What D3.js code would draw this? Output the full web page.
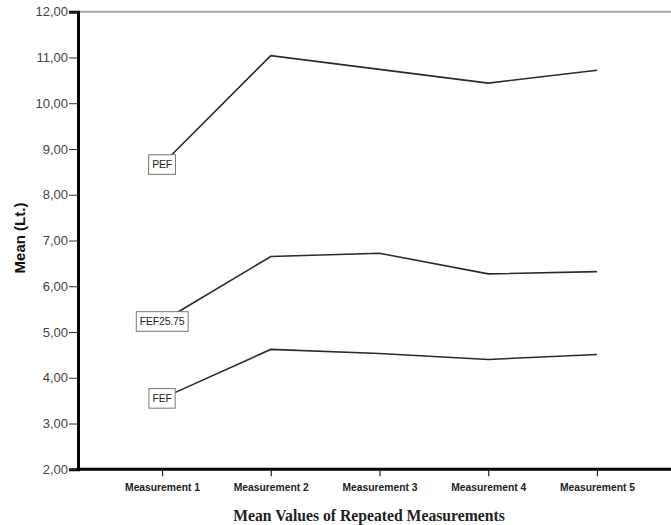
<!DOCTYPE html>
<html>
<head>
<meta charset="utf-8">
<script src="https://cdn.jsdelivr.net/npm/d3@7"></script>
<style>
  html, body { margin: 0; padding: 0; background: #fff; }
  svg { display: block; }
</style>
</head>
<body>
<div id="chart"></div>
<script>
const width = 671;
const height = 525;
const margin = { top: 11.7, right: 0, bottom: 55.7, left: 78 };

// Data
const measurements = ["Measurement 1", "Measurement 2", "Measurement 3", "Measurement 4", "Measurement 5"];
const seriesNames = ["PEF", "FEF25.75", "FEF"];
const pefValues = [8.66, 11.04, 10.74, 10.44, 10.72];
const fef2575Values = [5.23, 6.65, 6.72, 6.27, 6.32];
const fefValues = [3.55, 4.62, 4.53, 4.40, 4.51];
const yTicks = [2, 3, 4, 5, 6, 7, 8, 9, 10, 11, 12];

const series = [
    { name: seriesNames[0], values: pefValues },
    { name: seriesNames[1], values: fef2575Values },
    { name: seriesNames[2], values: fefValues },
];

const svg = d3
    .select("#chart")
    .append("svg")
    .attr("width", width)
    .attr("height", height);

const x = d3
    .scalePoint()
    .domain(measurements)
    .range([margin.left, width + 10])
    .padding(0.773);

const y = d3
    .scaleLinear()
    .domain([2, 12])
    .range([height - margin.bottom, margin.top]);

const fmt = (d) => d.toFixed(2).replace(".", ",");

// Top frame line (grey)
svg
    .append("line")
    .attr("x1", margin.left)
    .attr("x2", width)
    .attr("y1", y(12))
    .attr("y2", y(12))
    .attr("stroke", "#a8a8a8")
    .attr("stroke-width", 2);

// Y axis
const yAxisG = svg
    .append("g")
    .attr("transform", `translate(${margin.left},0)`)
    .call(d3.axisLeft(y).tickValues(yTicks).tickFormat(fmt).tickSize(9).tickPadding(1));

yAxisG.select(".domain").attr("stroke", "#000").attr("stroke-width", 3);
yAxisG.selectAll(".tick line").attr("stroke", "#333").attr("stroke-width", 1);
yAxisG
    .selectAll(".tick text")
    .attr("font-family", "Arial, 'Liberation Sans', sans-serif")
    .attr("font-size", 13)
    .attr("fill", "#444");

// X axis
const xAxisG = svg
    .append("g")
    .attr("transform", `translate(0,${y(2)})`)
    .call(d3.axisBottom(x).tickSize(7).tickPadding(7).tickSizeOuter(0));

xAxisG
    .select(".domain")
    .attr("d", `M${margin.left - 1.5},0H${width}`)
    .attr("stroke", "#000")
    .attr("stroke-width", 3);
xAxisG.selectAll(".tick line").attr("stroke", "#222").attr("stroke-width", 1.2);
xAxisG
    .selectAll(".tick text")
    .attr("font-family", "Arial, 'Liberation Sans', sans-serif")
    .attr("font-size", 10.3)
    .attr("font-weight", 700)
    .attr("fill", "#222");

// Axis titles
svg
    .append("text")
    .attr("x", 369)
    .attr("y", 521)
    .attr("text-anchor", "middle")
    .attr("font-family", "'Times New Roman', 'Liberation Serif', serif")
    .attr("font-weight", 700)
    .attr("font-size", 15.7)
    .attr("fill", "#222")
    .text("Mean Values of Repeated Measurements");

svg
    .append("text")
    .attr("transform", "rotate(-90)")
    .attr("x", -238)
    .attr("y", 25)
    .attr("text-anchor", "middle")
    .attr("font-family", "Arial, 'Liberation Sans', sans-serif")
    .attr("font-weight", 700)
    .attr("font-size", 15)
    .attr("fill", "#111")
    .text("Mean (Lt.)");

// Lines
const line = d3
    .line()
    .x((d, i) => x(measurements[i]))
    .y((d) => y(d));

svg
    .append("g")
    .selectAll("path")
    .data(series)
    .join("path")
    .attr("d", (d) => line(d.values))
    .attr("fill", "none")
    .attr("stroke", "#2a2a2a")
    .attr("stroke-width", 1.6);

// Labels at first point
const labels = svg
    .append("g")
    .selectAll("g")
    .data(series)
    .join("g")
    .attr("transform", (d) => `translate(${x(measurements[0])},${y(d.values[0])})`);

labels
    .append("text")
    .attr("text-anchor", "middle")
    .attr("dy", "0.35em")
    .attr("font-family", "Arial, 'Liberation Sans', sans-serif")
    .attr("font-size", 10.5)
    .attr("letter-spacing", -0.2)
    .attr("fill", "#222")
    .text((d) => d.name);

labels.each(function () {
    const g = d3.select(this);
    const bb = g.select("text").node().getBBox();
    g.insert("rect", "text")
        .attr("x", bb.x - 3.5)
        .attr("y", -9.8)
        .attr("width", bb.width + 7)
        .attr("height", 19.6)
        .attr("fill", "#fff")
        .attr("stroke", "#777")
        .attr("stroke-width", 1);
});
</script>
</body>
</html>
